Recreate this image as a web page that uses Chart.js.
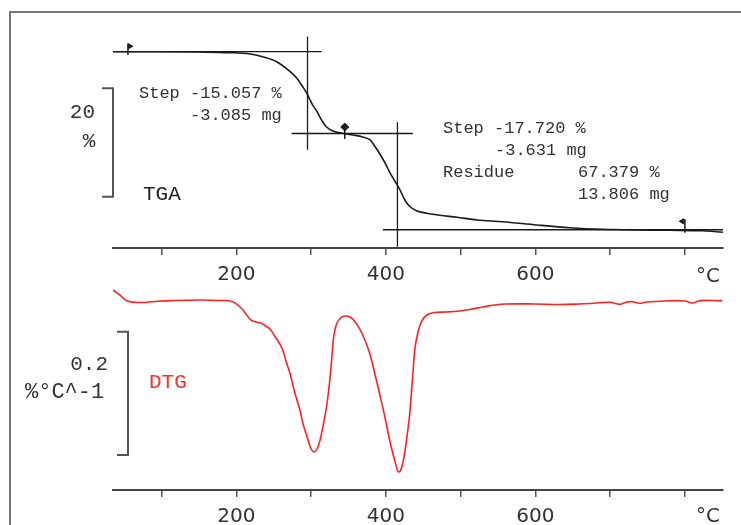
<!DOCTYPE html>
<html>
<head>
<meta charset="utf-8">
<script src="https://cdn.jsdelivr.net/npm/chart.js@4.4.1/dist/chart.umd.min.js"></script>
<style>
html, body { margin: 0; padding: 0; background: #fff; }
body { width: 741px; height: 525px; position: relative; overflow: hidden; }
#frame { position: absolute; left: 9px; top: 11px; width: 740px; height: 520px;
         border-top: 2px solid #777; border-left: 2px solid #777; }
canvas { position: absolute; left: 0; }
#tga { top: 0; }
#dtg { top: 260px; }
</style>
</head>
<body>
<div id="frame"></div>
<canvas id="tga" width="741" height="300"></canvas>
<canvas id="dtg" width="741" height="265"></canvas>
<script>
// temperature axis (°C)
const tickValues = [100, 200, 300, 400, 500, 600, 700, 800];
const tickLabels = ["", "200", "", "400", "", "600", "", ""];

// TGA curve, mass %
const tgaTemp = [35, 98, 151, 191, 218, 235, 254, 272, 281, 289, 294, 298, 302, 308, 312, 316, 321, 329, 342, 356,
  369, 379, 385, 392, 399, 405, 412, 419, 425, 432, 441, 455, 472, 495, 522, 556, 602, 646, 690, 735, 780, 824, 851];
const tgaMass = [100.0, 100.0, 99.94, 99.82, 99.58, 99.08, 98.15, 96.31, 95.09, 93.49, 92.38, 91.27, 90.17, 88.93, 87.86, 86.94, 86.05, 85.37, 84.94, 84.63,
  84.26, 83.71, 82.60, 81.13, 79.46, 77.80, 76.14, 74.48, 72.73, 71.44, 70.66, 70.18, 69.82, 69.45, 68.95, 68.63, 68.03, 67.53, 67.23, 67.10, 67.05, 66.97, 66.68];

// DTG curve, %/°C
const dtgTemp = [35, 44, 54, 71, 91, 111, 151, 178, 195, 205, 211, 218, 222, 229, 234, 239, 245, 253, 261, 266,
  272, 278, 285, 290, 296, 300, 304, 308, 312, 317, 321, 325, 328, 330, 334, 340, 345, 352, 358, 365,
  372, 379, 385, 392, 399, 405, 411, 415, 417, 420, 424, 428, 432, 436, 439, 443, 448, 455, 465, 481,
  499, 512, 530, 546, 559, 599, 632, 659, 677, 699, 713, 722, 730, 739, 749, 766, 784, 800, 810, 820, 850];
const dtgVal = [0.0162, 0.0081, -0.0016, -0.0041, -0.0024, -0.0011, 0, -0.0008, -0.0028, -0.0114, -0.0195, -0.0308, -0.0341, -0.0365, -0.0381, -0.0422, -0.0470, -0.0616, -0.0778, -0.0973,
  -0.1200, -0.1492, -0.1784, -0.2043, -0.2270, -0.2416, -0.2465, -0.2416, -0.2270, -0.1978, -0.1703, -0.1297, -0.0892, -0.0616, -0.0389, -0.0284, -0.0259, -0.0276, -0.0341, -0.0470,
  -0.0649, -0.0892, -0.1184, -0.1540, -0.1913, -0.2270, -0.2562, -0.2740, -0.2789, -0.2757, -0.2562, -0.2238, -0.1832, -0.1216, -0.0778, -0.0519, -0.0341, -0.0243, -0.0203, -0.0195,
  -0.0178, -0.0154, -0.0114, -0.0081, -0.0065, -0.0065, -0.0073, -0.0065, -0.0054, -0.0037, -0.0070, -0.0032, -0.0028, -0.0054, -0.0032, -0.0021, -0.0011, -0.0016, -0.0049, -0.0011, -0.0011];

// step evaluation construction lines
const baseLevel = [100, 84.9, 67.15];
const baseFrom = [35, 274, 396];
const baseTo = [314, 436, 851];
const stepTemp = [295.2, 415.5];
const stepTop = [102.8, 87.0];
const stepBottom = [81.9, 64.0];

// evaluation limit markers
const markTemp = [55, 345, 800];
const markTop = [101.5, 86.2, 69.1];
const markBottom = [99.4, 83.9, 66.6];

// scale bars
const tgaBar = [93.25, 73.25];
const dtgBar = [-0.0514, -0.2514];

const monoFont = "Liberation Mono, Courier New, monospace";
const ink = "#1a1a1a";

function line(points, width) {
  return { data: points, borderColor: ink, borderWidth: width || 1.3, pointRadius: 0, fill: false };
}

function xAxis(height) {
  return {
    type: "linear", min: 35, max: 851,
    afterBuildTicks: s => { s.ticks = tickValues.map(v => ({ value: v })); },
    afterFit: s => { s.height = height; },
    ticks: {
      autoSkip: false, maxRotation: 0, padding: 8, color: "#333",
      font: { family: "DejaVu Sans", size: 20 },
      callback: (v, i) => tickLabels[i]
    },
    grid: { drawOnChartArea: false, drawTicks: true, tickLength: 7, color: "#555", lineWidth: 1.5 },
    border: { display: true, color: "#444", width: 2 }
  };
}

function text(ctx, str, x, y, font, color, align) {
  ctx.save();
  ctx.font = font;
  ctx.fillStyle = color;
  ctx.textAlign = align || "left";
  ctx.textBaseline = "middle";
  ctx.fillText(str, x, y);
  ctx.restore();
}

function bracket(ctx, x, top, bottom) {
  ctx.save();
  ctx.strokeStyle = "#555";
  ctx.lineWidth = 2;
  ctx.beginPath();
  ctx.moveTo(x - 11, top);
  ctx.lineTo(x, top);
  ctx.lineTo(x, bottom);
  ctx.lineTo(x - 11, bottom);
  ctx.stroke();
  ctx.restore();
}

// TGA chart
const tgaSets = [];
tgaSets.push({ data: tgaTemp.map((t, i) => ({ x: t, y: tgaMass[i] })), borderColor: ink, borderWidth: 1.6,
  pointRadius: 0, cubicInterpolationMode: "monotone", fill: false });
baseLevel.forEach((lv, i) => tgaSets.push(line([{ x: baseFrom[i], y: lv }, { x: baseTo[i], y: lv }])));
stepTemp.forEach((t, i) => tgaSets.push(line([{ x: t, y: stepTop[i] }, { x: t, y: stepBottom[i] }])));
markTemp.forEach((t, i) => tgaSets.push(line([{ x: t, y: markTop[i] }, { x: t, y: markBottom[i] }], 1.5)));
tgaSets.push({
  data: [{ x: 57.5, y: 101.0 }, { x: 345, y: 86.1 }, { x: 796.5, y: 68.7 }],
  showLine: false, pointStyle: ["triangle", "rectRot", "triangle"], pointRotation: [90, 0, -90],
  pointRadius: [3, 4, 3], backgroundColor: ink, borderColor: ink, borderWidth: 1
});

const tgaLabels = {
  id: "tgaLabels",
  afterDraw(chart) {
    const ctx = chart.ctx;
    const y = chart.scales.y;
    const small = "17px " + monoFont;
    const big = "21px " + monoFont;
    text(ctx, "Step -15.057 %", 139, 93, small, "#333");
    text(ctx, "-3.085 mg", 190, 115, small, "#333");
    text(ctx, "Step -17.720 %", 443, 128, small, "#333");
    text(ctx, "-3.631 mg", 495, 150, small, "#333");
    text(ctx, "Residue", 443, 172, small, "#333");
    text(ctx, "67.379 %", 578, 172, small, "#333");
    text(ctx, "13.806 mg", 578, 194, small, "#333");
    text(ctx, "20", 95, 112, big, "#333", "right");
    text(ctx, "%", 89, 141, big, "#333", "center");
    text(ctx, "TGA", 143, 194, big, "#222");
    text(ctx, "°C", 708, 277, "20px DejaVu Sans", "#333", "center");
    bracket(ctx, 113, y.getPixelForValue(tgaBar[0]), y.getPixelForValue(tgaBar[1]));
  }
};

new Chart(document.getElementById("tga"), {
  type: "line",
  data: { datasets: tgaSets },
  options: {
    responsive: false, animation: false, events: [],
    layout: { padding: { left: 113, right: 18, top: 12, bottom: 0 } },
    plugins: { legend: { display: false }, tooltip: { enabled: false } },
    scales: {
      x: xAxis(52),
      y: { display: false, min: 63.78, max: 107.32 }
    }
  },
  plugins: [tgaLabels]
});

// DTG chart
const dtgLabels = {
  id: "dtgLabels",
  afterDraw(chart) {
    const ctx = chart.ctx;
    const y = chart.scales.y;
    const big = "21px " + monoFont;
    text(ctx, "0.2", 108, 104, big, "#333", "right");
    text(ctx, "%°C^-1", 25, 132, "22px " + monoFont, "#333");
    text(ctx, "DTG", 149, 122, big, "#ff2a2a");
    text(ctx, "°C", 708, 257, "20px DejaVu Sans", "#333", "center");
    bracket(ctx, 128, y.getPixelForValue(dtgBar[0]), y.getPixelForValue(dtgBar[1]));
  }
};

new Chart(document.getElementById("dtg"), {
  type: "line",
  data: {
    datasets: [{
      data: dtgTemp.map((t, i) => ({ x: t, y: dtgVal[i] })),
      borderColor: "#ff2020", borderWidth: 1.6, pointRadius: 0,
      tension: 0.4, fill: false
    }]
  },
  options: {
    responsive: false, animation: false, events: [],
    layout: { padding: { left: 113, right: 18, top: 10, bottom: 0 } },
    plugins: { legend: { display: false }, tooltip: { enabled: false } },
    scales: {
      x: xAxis(35),
      y: { display: false, min: -0.3081, max: 0.0486 }
    }
  },
  plugins: [dtgLabels]
});
</script>
</body>
</html>
